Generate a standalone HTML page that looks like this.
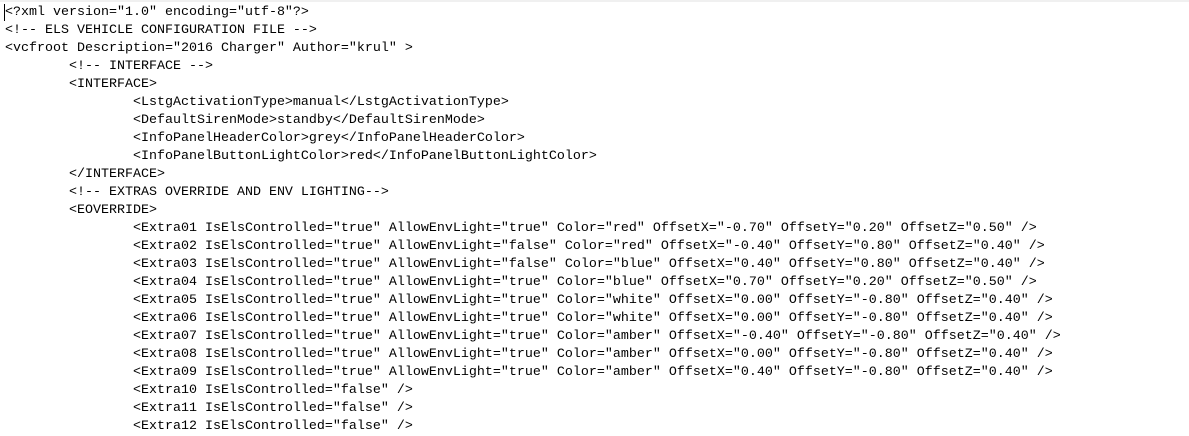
<!DOCTYPE html>
<html><head><meta charset="utf-8"><style>
html,body{margin:0;padding:0;background:#fff;width:1189px;height:436px;overflow:hidden}
.top{position:absolute;left:0;top:0;width:1189px;height:2px;background:#f0f0f0}
pre{position:absolute;left:5px;top:3.5px;margin:0;font-family:"Liberation Mono",monospace;font-size:13.33px;line-height:18px;color:#000;white-space:pre}
.cur{position:absolute;left:4px;top:4px;width:1px;height:17px;background:#000}
</style></head><body><div class="top"></div><div class="cur"></div><pre>&lt;?xml version="1.0" encoding="utf-8"?&gt;
&lt;!-- ELS VEHICLE CONFIGURATION FILE --&gt;
&lt;vcfroot Description="2016 Charger" Author="krul" &gt;
        &lt;!-- INTERFACE --&gt;
        &lt;INTERFACE&gt;
                &lt;LstgActivationType&gt;manual&lt;/LstgActivationType&gt;
                &lt;DefaultSirenMode&gt;standby&lt;/DefaultSirenMode&gt;
                &lt;InfoPanelHeaderColor&gt;grey&lt;/InfoPanelHeaderColor&gt;
                &lt;InfoPanelButtonLightColor&gt;red&lt;/InfoPanelButtonLightColor&gt;
        &lt;/INTERFACE&gt;
        &lt;!-- EXTRAS OVERRIDE AND ENV LIGHTING--&gt;
        &lt;EOVERRIDE&gt;
                &lt;Extra01 IsElsControlled="true" AllowEnvLight="true" Color="red" OffsetX="-0.70" OffsetY="0.20" OffsetZ="0.50" /&gt;
                &lt;Extra02 IsElsControlled="true" AllowEnvLight="false" Color="red" OffsetX="-0.40" OffsetY="0.80" OffsetZ="0.40" /&gt;
                &lt;Extra03 IsElsControlled="true" AllowEnvLight="false" Color="blue" OffsetX="0.40" OffsetY="0.80" OffsetZ="0.40" /&gt;
                &lt;Extra04 IsElsControlled="true" AllowEnvLight="true" Color="blue" OffsetX="0.70" OffsetY="0.20" OffsetZ="0.50" /&gt;
                &lt;Extra05 IsElsControlled="true" AllowEnvLight="true" Color="white" OffsetX="0.00" OffsetY="-0.80" OffsetZ="0.40" /&gt;
                &lt;Extra06 IsElsControlled="true" AllowEnvLight="true" Color="white" OffsetX="0.00" OffsetY="-0.80" OffsetZ="0.40" /&gt;
                &lt;Extra07 IsElsControlled="true" AllowEnvLight="true" Color="amber" OffsetX="-0.40" OffsetY="-0.80" OffsetZ="0.40" /&gt;
                &lt;Extra08 IsElsControlled="true" AllowEnvLight="true" Color="amber" OffsetX="0.00" OffsetY="-0.80" OffsetZ="0.40" /&gt;
                &lt;Extra09 IsElsControlled="true" AllowEnvLight="true" Color="amber" OffsetX="0.40" OffsetY="-0.80" OffsetZ="0.40" /&gt;
                &lt;Extra10 IsElsControlled="false" /&gt;
                &lt;Extra11 IsElsControlled="false" /&gt;
                &lt;Extra12 IsElsControlled="false" /&gt;</pre></body></html>
